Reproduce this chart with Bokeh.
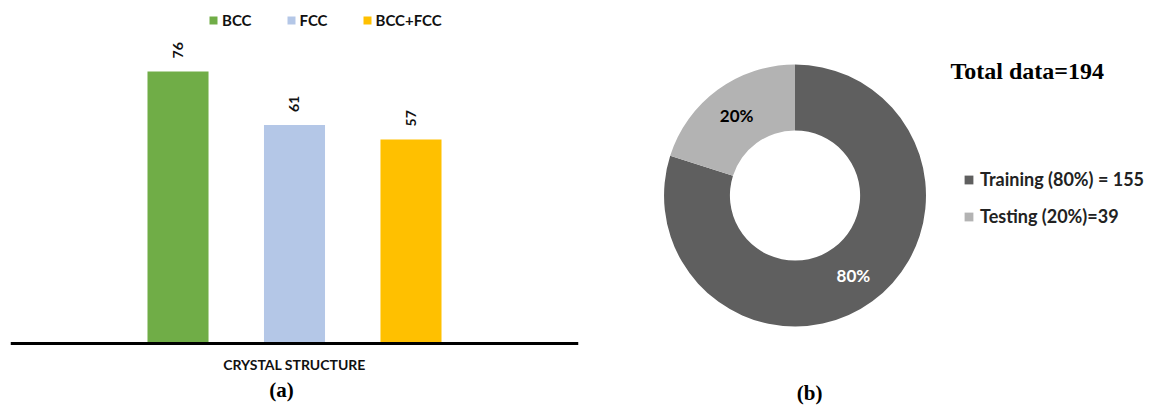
import math
from bokeh.plotting import figure
from bokeh.models import (Range1d, ColumnDataSource, LabelSet, Legend, LegendItem,
                          Label, Span)
from bokeh.layouts import row
from bokeh.embed import file_html
from bokeh.resources import INLINE
from bokeh.core.properties import value

# ---- data: panel (a) ----
categories = ["BCC", "FCC", "BCC+FCC"]
counts = [76, 61, 57]
bar_colors = ["#70AD47", "#B4C7E7", "#FFC000"]
x_label = "CRYSTAL STRUCTURE"
panel_a = "(a)"

# ---- data: panel (b) ----
split_names = ["Training (80%) = 155", "Testing (20%)=39"]
split_counts = [155, 39]
split_pct_labels = ["80%", "20%"]
split_colors = ["#5F5F5F", "#B3B3B3"]
split_label_colors = ["#FFFFFF", "#000000"]
total_label = "Total data=194"
panel_b = "(b)"

SANS = "Lato"
SERIF = "Liberation Serif"

# ================= panel (a) =================
p1 = figure(width=608, height=411, x_range=Range1d(-1.438, 3.438), y_range=Range1d(-18.99, 95.81),
            output_backend="svg", toolbar_location=None,
            x_axis_location=None, y_axis_location=None,
            min_border_left=10, min_border_right=30, min_border_top=0, min_border_bottom=0)
p1.outline_line_color = None
p1.grid.visible = False

xs = list(range(len(categories)))
src = ColumnDataSource(dict(x=xs, top=counts, color=bar_colors,
                            cat=categories, lab=[str(c) for c in counts]))
bars = p1.vbar(x="x", top="top", width=0.524, bottom=0, fill_color="color", line_color=None, source=src)

# category axis baseline
p1.add_layout(Span(location=0, dimension="width", line_color="#000000", line_width=3))

p1.add_layout(LabelSet(x="x", y="top", text="lab", source=src, angle=math.pi / 2, y_offset=13,
                       text_align="left", text_baseline="middle", text_font=value(SANS),
                       text_font_size="14px", text_font_style="bold", text_color="#111111"))

mid_x = (len(categories) - 1) / 2
p1.add_layout(Label(x=mid_x, y=0, y_offset=-21, text=x_label, text_align="center",
                    text_baseline="middle", text_font=SANS, text_font_size="14px",
                    text_font_style="bold", text_color="#111111"))
p1.add_layout(Label(x=mid_x, y=0, x_offset=-13, y_offset=-46, text=panel_a, text_align="center",
                    text_baseline="middle", text_font=SERIF, text_font_size="21px",
                    text_font_style="bold", text_color="#000000"))

leg1 = Legend(items=[LegendItem(label=c, renderers=[bars], index=i) for i, c in enumerate(categories)],
              orientation="horizontal", location=(198, 381), glyph_width=10, glyph_height=10,
              label_height=20, label_standoff=4, spacing=34, padding=0, margin=0,
              border_line_color=None, background_fill_alpha=0,
              label_text_font=SANS, label_text_font_size="15px", label_text_font_style="bold",
              label_text_color="#111111")
p1.add_layout(leg1)

# ================= panel (b) =================
p2 = figure(width=542, height=411, x_range=Range1d(-1.424, 2.714), y_range=Range1d(-1.649, 1.489),
            output_backend="svg", toolbar_location=None,
            x_axis_location=None, y_axis_location=None,
            min_border_left=0, min_border_right=0, min_border_top=0, min_border_bottom=0)
p2.outline_line_color = None
p2.grid.visible = False

total = sum(split_counts)
starts, ends, mids = [], [], []
cum = 0
for c in split_counts:
    end = math.pi / 2 - 2 * math.pi * cum / total
    start = end - 2 * math.pi * c / total
    starts.append(start)
    ends.append(end)
    mids.append((start + end) / 2)
    cum += c
lab_r = 0.755
src2 = ColumnDataSource(dict(start=starts, end=ends, color=split_colors, name=split_names,
                             pct=split_pct_labels, lc=split_label_colors,
                             lx=[lab_r * math.cos(m) for m in mids], ly=[lab_r * math.sin(m) for m in mids]))
wedges = p2.annular_wedge(x=0, y=0, inner_radius=0.497, outer_radius=1.0, start_angle="start",
                          end_angle="end", direction="anticlock", fill_color="color",
                          line_color=None, source=src2)
p2.add_layout(LabelSet(x="lx", y="ly", text="pct", source=src2, text_color="lc",
                       text_align="center", text_baseline="middle", text_font=value(SANS),
                       text_font_size="17px", text_font_style="bold"))

p2.add_layout(Label(x=1.187, y=0.947, text=total_label, text_baseline="middle", text_align="left",
                    text_font=SERIF, text_font_size="24px", text_font_style="bold", text_color="#000000"))

p2.add_layout(Label(x=0.111, y=-1.504, text=panel_b, text_baseline="middle", text_align="center",
                    text_font=SERIF, text_font_size="21px", text_font_style="bold", text_color="#000000"))

leg2 = Legend(items=[LegendItem(label=n, renderers=[wedges], index=i) for i, n in enumerate(split_names)],
              orientation="vertical", location=(355, 184), glyph_width=11, glyph_height=11,
              label_height=22, label_standoff=6, spacing=15, padding=0, margin=0,
              border_line_color=None, background_fill_alpha=0,
              label_text_font=SANS, label_text_font_size="18px", label_text_font_style="bold",
              label_text_color="#222222")
p2.add_layout(leg2)

layout = row(p1, p2)
open("out.html", "w").write(file_html(layout, INLINE))
